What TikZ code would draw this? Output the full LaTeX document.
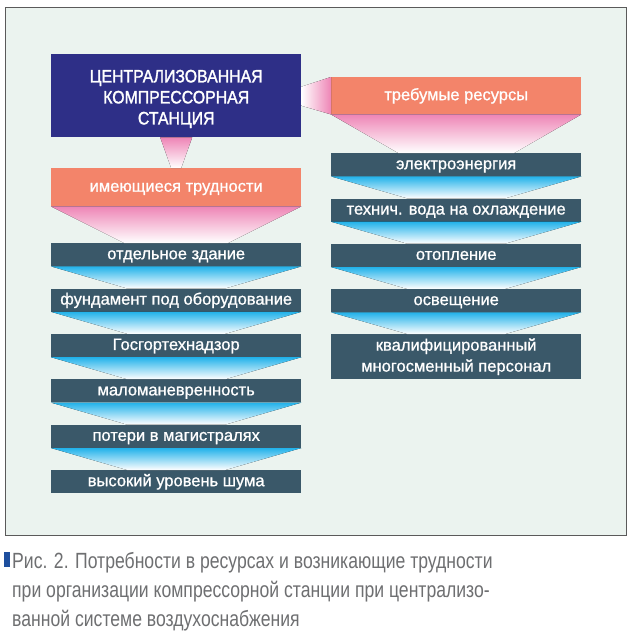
\documentclass[tikz,border=0pt]{standalone}
\usepackage{fontspec}
\setmainfont{Liberation Sans}
\newfontfamily\schemafont[FakeBold=0.9]{Liberation Sans}
\newfontfamily\stationfont[FakeBold=1.6, FakeStretch=0.88]{Liberation Sans}
\newfontfamily\captfont[FakeStretch=0.80]{Liberation Sans}
\usepackage{tikz}
\usetikzlibrary{calc}
\definecolor{fonpanel}{HTML}{EBF3EF}
\definecolor{cadre}{HTML}{5A5A5A}
\definecolor{bleustation}{HTML}{2E2F87}
\definecolor{saumon}{HTML}{F3846A}
\definecolor{rose}{HTML}{EE85B6}
\definecolor{ardoise}{HTML}{3A5869}
\definecolor{cyanclair}{HTML}{22B2EA}
\definecolor{gristexte}{HTML}{6E6F71}
\definecolor{bleumarque}{HTML}{1E4F9E}

\tikzset{
  stationbox/.style={fill=bleustation, text=white, anchor=north west, inner sep=0pt,
    minimum width=250pt, minimum height=83pt, align=center,
    font=\stationfont\fontsize{18}{21}\selectfont},
  titrebox/.style={fill=saumon, text=white, anchor=north west, inner sep=0pt,
    minimum width=250pt, text height=12pt, text depth=3pt,
    font=\schemafont\fontsize{16.5}{20}\selectfont},
  listbox/.style={fill=ardoise, text=white, anchor=north west, inner sep=0pt,
    minimum width=250pt, minimum height=23pt, text height=12pt, text depth=3pt,
    font=\schemafont\fontsize{16.5}{20}\selectfont},
  rosefunnel/.style={top color=rose, bottom color=white},
  bleufunnel/.style={top color=cyanclair, bottom color=white}
}

\begin{document}
\begin{tikzpicture}[x=1pt,y=-1pt]
  \useasboundingbox (0,0) rectangle (630,642);
  \fill[white] (0,0) rectangle (630,642);
  \draw[cadre, fill=fonpanel, line width=0.8pt] (5,7) rectangle (626,535);

  % blocs de tete
  \node[stationbox] (station) at (51,54)
    {\rule{0pt}{19pt}ЦЕНТРАЛИЗОВАННАЯ\\КОМПРЕССОРНАЯ\\СТАНЦИЯ};
  \node[titrebox, minimum height=38pt] (trudn) at (51,168) {имеющиеся трудности};
  \node[titrebox, minimum height=37pt] (resurs) at (331,77) {требумые ресурсы};

  % colonne gauche
  \foreach \txt [count=\i] in {отдельное здание, фундамент под оборудование,
      Госгортехнадзор, маломаневренность, потери в магистралях, высокий уровень шума}
    \node[listbox] (L\i) at (51,{243+45.4*(\i-1)}) {\txt};

  % colonne droite
  \foreach \txt [count=\i] in {электроэнергия, технич. вода на охлаждение,
      отопление, освещение}
    \node[listbox] (R\i) at (331,{153+45.3*(\i-1)}) {\txt};
  \node[listbox, minimum height=45pt, text height=, text depth=, align=center,
    font=\schemafont\fontsize{16.5}{21}\selectfont] (R5) at (331,334)
    {квалифицированный\\многосменный персонал};

  % entonnoirs roses
  \fill[rosefunnel] ($(station.south)+(-16,0)$) -- ($(station.south)+(16,0)$)
    -- ($(trudn.north)+(5,0)$) -- ($(trudn.north)+(-5,0)$) -- cycle;
  \fill[left color=white, right color=rose] ($(station.east)+(0,-9)$) -- (resurs.north west)
    -- (resurs.south west) -- ($(station.east)+(0,10)$) -- cycle;
  \fill[rosefunnel] (trudn.south west) -- (trudn.south east)
    -- ($(L1.north)+(52,0)$) -- ($(L1.north)+(-52,0)$) -- cycle;
  \fill[rosefunnel] (resurs.south west) -- (resurs.south east)
    -- ($(R1.north)+(58,0)$) -- ($(R1.north)+(-58,0)$) -- cycle;

  % entonnoirs bleus
  \foreach \i [remember=\i as \p (initially 1)] in {2,...,6}
    \fill[bleufunnel] (L\p.south west) -- (L\p.south east)
      -- ($(L\i.north)+(49,0)$) -- ($(L\i.north)+(-49,0)$) -- cycle;
  \foreach \i [remember=\i as \p (initially 1)] in {2,...,5}
    \fill[bleufunnel] (R\p.south west) -- (R\p.south east)
      -- ($(R\i.north)+(49,0)$) -- ($(R\i.north)+(-49,0)$) -- cycle;

  % legende
  \node[fill=bleumarque, inner sep=0pt, minimum width=6pt, minimum height=15pt,
    anchor=north west] (marque) at (4,552) {};
  \node[anchor=north west, inner sep=0pt, align=left, text=gristexte,
    font=\captfont\fontsize{22}{29}\selectfont] (legende) at (12,552)
    {Рис. 2. Потребности в ресурсах и возникающие трудности\\%
при организации компрессорной станции при централизо-\\%
ванной системе воздухоснабжения};
\end{tikzpicture}
\end{document}
